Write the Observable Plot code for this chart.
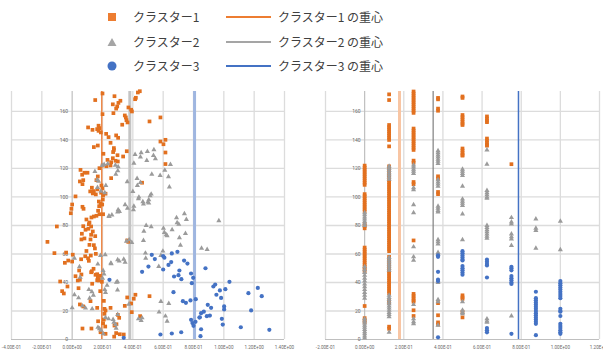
<!DOCTYPE html>
<html>
<head>
<meta charset="utf-8">
<script src="https://cdn.jsdelivr.net/npm/d3@7"></script>
<script src="https://cdn.jsdelivr.net/npm/@observablehq/plot@0.6"></script>
<style>
  html, body { margin: 0; padding: 0; background: #fff; }
  body { width: 603px; height: 351px; position: relative; overflow: hidden; }
  #legend { position: absolute; left: 0; top: 0; width: 603px; height: 85px; font-family: "Noto Sans CJK JP", sans-serif; font-size: 12px; color: #404040; }
  .lg { position: absolute; white-space: nowrap; line-height: 14px; }
  #left { position: absolute; left: 0; top: 85px; }
  #right { position: absolute; left: 300px; top: 85px; }
</style>
</head>
<body>
<div id="legend"></div>
<div id="left"></div>
<div id="right"></div>
<script>
// ---------- data ----------
const seriesNames = ["クラスター1", "クラスター2", "クラスター3"];
const centroidNames = ["クラスター1 の重心", "クラスター2 の重心", "クラスター3 の重心"];

const yTicks = [0, 20, 40, 60, 80, 100, 120, 140, 160];
const xTicksLeft = [-0.4, -0.2, 0, 0.2, 0.4, 0.6, 0.8, 1.0, 1.2, 1.4];
const xLabelsLeft = ["-4.00E-01", "-2.00E-01", "0.00E+00", "2.00E-01", "4.00E-01", "6.00E-01", "8.00E-01", "1.00E+00", "1.20E+00", "1.40E+00"];
const xTicksRight = [-0.2, 0, 0.2, 0.4, 0.6, 0.8, 1.0, 1.2];
const xLabelsRight = ["-2.00E-01", "0.00E+00", "2.00E-01", "4.00E-01", "6.00E-01", "8.00E-01", "1.00E+00", "1.20E+00"];

const centroidLeft = [0.195, 0.38, 0.807];
const centroidRight = [0.178, 0.35, 0.786];

// left panel: [x, y]
const left1 = [
  [0.20,172.6],[0.152,168],[0.279,170.7],[0.268,165],[0.305,166],[0.318,167.5],[0.297,163.5],[0.29,162],[0.272,158.8],
  [0.371,162.8],[0.389,161.2],[0.394,160],[0.347,157.2],[0.354,155.8],[0.358,153.9],[0.365,152.3],[0.33,150.7],
  [0.20,158.1],[0.105,148.8],[0.134,147.1],[0.174,150],[0.178,148.3],[0.165,147.6],[0.174,146.4],[0.189,145.3],
  [0.224,144.3],[0.24,142],[0.253,138],[0.29,143.2],[0.303,141.5],[0.143,135],[0.169,136.1],[0.206,130.3],
  [0.275,134.3],[0.275,133],[0.27,131.5],[0.36,132.1],[0.336,128.4],
  [0.299,129.3],[0.268,127.2],[0.257,124.4],[0.301,124.9],[0.286,125.4],[0.233,126],[0.253,122.1],[0.226,121.6],
  [0.20,122.1],[0.18,120.2],[0.055,119],[0.066,115.6],[0.081,117],[0.101,117],
  [0.051,110.9],[0.073,111.8],[0.068,109],[0.169,114.4],[0.16,111.8],[0.257,113.2],
  [0.13,106.5],[0.143,104.1],[0.136,102.5],[0.156,101.8],[0.119,103.9],
  [0.193,108.1],[0.20,106],[0.191,103],[0.204,101.1],[0.22,102.3],[0.167,105.3],
  [0.022,100.4],[0,94.7],[-0.005,91.7],[-0.009,88.6],[0.068,93.1],[0.075,91.7],
  [0.176,96.8],[0.187,95.2],[0.178,93.5],[0.198,94.7],[0.202,98.2],[0.171,90.3],[0.18,87.9],[0.204,87.9],
  [0.433,173.3],[0.446,174.2],[0.42,169.6],[0.415,168.6],
  [0.51,153],[0.582,155.8],[0.582,138.9],[0.602,137],[0.615,140.1],[0.615,131.2],[0.615,123.1],[0.461,110],
  [0.094,84.2],[0.143,86.3],[0.127,85.6],[0.16,86.8],
  [0.114,82.1],[0.11,80.9],[0.073,79.5],[0.125,79.3],[0.107,77.7],[-0.101,79.3],
  [0.136,75.8],[0.125,73.5],[0.152,72.5],[0.088,77],[0.064,74.2],[0.081,70.9],[0.061,70.2],[0.121,70.2],
  [-0.163,68.5],[0.114,66.4],[0.143,66.2],[0.15,63.9],[0.094,62.1],[-0.04,61],[-0.117,60.6],
  [0.156,60.1],[0.123,58.9],[0.105,57],[0.11,55.2],[0.086,58.4],[0.059,56.3],
  [0.004,59.5],[-0.026,55.4],[-0.048,53.8],[0,54.7],
  [0.141,49.6],[0.13,47.9],[0.125,47.2],[0.046,48.4],
  [0.061,45.6],[0.022,44.4],[0.037,41.4],[0.051,41.9],
  [0.165,45.8],[0.183,44.7],[0.176,42.3],[0.165,41.6],
  [0.132,39.1],[-0.079,40.7],[-0.066,33.9],[-0.055,32.3],[-0.031,37.2],[0.042,36],
  [0.121,26.9],[0.185,33.9],[0.051,24.6],[0.073,23.2],[0.165,22.2],
  [0.213,21.5],[0.22,20.4],[0.213,18],[0.209,14],[0.204,11.4],[0.218,9.1],[0.253,22.2],[0.171,12.8],[0.127,7.7],[0.068,7.7],
  [0.187,5.1],[0.22,4],[0.277,2],[0.29,4.5],[0.314,3.7],[0.34,3.5],[0.279,9.8],[0.292,10.7],
  [0.301,17.3],[0.31,15.2],[0.347,23.6],[0.389,25.3],[0.393,19.2],[0.363,29.5],[0.406,28.6],[0.417,31.4],[0.448,16.4],[0.51,30.4],[0.209,27.1],
  [0.196,40.5],[0.169,43.7],[0.174,41.4],[0.154,45.4],[0.363,69.5],[0.37,68.5]
];
const left2 = [
  [0.415,129.8],[0.455,131],[0.45,128],[0.496,131.9],[0.539,133.1],[0.536,129.1],[0.549,126.8],[0.492,125.6],[0.407,123.7],[0.648,122.8],
  [0.611,118.8],[0.525,116],[0.58,115.1],[0.635,114.2],[0.428,113],[0.363,110.7],[0.45,110.2],[0.43,108.1],[0.641,107],[0.40,103.9],
  [0.521,102],[0.514,100.8],[0.44,99.9],[0.437,98.7],[0.505,98],[0.499,96.4],[0.466,96.6],[0.47,95],[0.505,95.7],
  [0.349,94.5],[0.365,92.1],[0.407,93.5],[0.404,91],
  [0.198,122.1],[0.211,122.8],[0.235,123.3],[0.285,122.3],[0.303,121.2],[0.301,118.4],[0.288,116],[0.15,117.9],[0.165,112],[0.174,111],
  [0.222,108],[0.167,106.7],[0.19,104],[0.215,103],[0.303,91],[0.312,89.8],[0.242,86.6],[0.262,87.3],[0.244,86.3],[0.3,89.5],
  [0.74,88.2],[0.688,85.4],[0.753,84.2],[0.692,81.9],[0.703,80.9],[0.967,83.3],[0.488,80],[0.521,79.1],[0.602,78.1],[0.473,76],
  [0.608,75.1],[0.62,73.5],[0.626,72.8],[0.659,77],[0.747,74.4],[0.707,71.4],[0.47,69.5],[0.376,70],[0.393,68.1],[0.358,69],
  [0.714,66.1],[0.853,64],[0.89,63.2],[0.483,60.6],[0.485,57],[0.598,62],[0.585,59],[0.571,51.2],[0.34,56.3],[0.349,54.2],
  [0.31,55],[0.255,53.6],[0.218,59.5],[0.187,59],[0.169,52.9],[0.257,53.1],[0.3,56],
  [0.204,48.4],[0.21,46],[0.2,43],[0.299,40.5],[0.23,38],[0.215,35],[0.22,33],[0.015,31.4],[0.11,35],[0.13,33.5],[0.14,31],[0.115,29],
  [0,22.2],[0.088,22],[0.132,21.5],[0.22,15.5],[0.24,14.5],[0.27,14],[0.275,12],[0.286,10.5],[0.29,7.9],[0.17,8.5],[0.18,7.5],[0.19,6.5],[0.205,4],
  [0.015,57],[0.048,51],[0.053,43.7],[0.042,29.2],[0.068,23.6],
  [0.292,40.2],[0.299,34.8],[0.3,17.6],[0.374,24.8],[0.437,14.5],[0.455,13.3],[0.461,15.2],
  [0.585,26.7],[0.637,25.3],[0.573,19.2],[0.615,16.4],[0.626,12.8]
];
const left3 = [
  [0.525,59.4],[0.545,56.4],[0.6,58.5],[0.608,57.4],[0.657,60.4],[0.653,54.3],[0.694,61.5],[0.461,47.5],[0.503,51.2],[0.6,49.1],
  [0.635,52.3],[0.738,55.4],[0.76,53.3],[0.707,48.4],[0.701,45.1],[0.72,42.3],[0.672,44.2],[0.784,46.3],[0.798,43.3],[0.789,39.5],
  [0.879,50],[0.668,33.2],[0.73,26.9],[0.75,25.7],[0.78,27.4],[0.815,28.3],[0.931,37.2],[0.943,38.6],[0.974,34.4],[1.01,35.3],
  [1.037,40.5],[0.951,31.4],[0.982,29.2],[0.894,24.3],[0.916,22.2],[0.85,18.5],[0.868,19.5],[0.908,16.8],[0.888,16.4],[0.839,15.4],
  [1.002,23.2],[1.002,21.1],[0.987,14.5],[0.993,10.5],[1.162,32.5],[1.224,36.2],[1.25,30.4],[1.18,20.4],[0.784,13.8],[0.793,11.5],
  [0.8,9.6],[0.813,12.4],[0.842,15.6],[1.112,8.6],[1.30,6.8],[0.582,3.5],[0.657,4.2],[0.719,5.1],[0.846,2.3],[0.85,7.2],
  [0.34,1.2],[0.246,41.9]
];

// right panel: discrete x levels, y values per level for each cluster
const rightLevels = [0, 0.125, 0.25, 0.375, 0.5, 0.625, 0.75, 0.875, 1.0];
const right1Y = [
  [122,120.5,119,117.5,116,114.5,113,111.5,110,108.5,102,100.5,99,97.5,96,94.5,93,91.5,90,81,79.5,78,64.5,63,61.5,60,58.5,57,55.5,54,52.5,51,49.5,48,23.5,15,13.5,12],
  [172,168,150.5,149,147.5,146,144.5,143,141.5,140,135.5,121.5,120,118.5,117,115.5,114,111.5,110,108.5,107,105.5,104,102.5,101,99.5,98,96.5,95,93.5,92,90.5,89,87.5,86,84.5,83,81.5,80,78.5,77,75.5,74,72.5,71,69.5,68,66.5,65,63.5,62,58,56.5,55,53.5,52,50.5,49,47.5,46,44.5,43,41.5,40,38.5,37,35.5,34,32.5,27,25.5,9,7.5],
  [174,172.5,171,169.5,168,166.5,165,163.5,162,160.5,159,148,146.5,145,143.5,142,140.5,139,137.5,136,134.5,133,125.5,124,110.5,109,69.5,32,30.5,29,27.5,26.5,20.5,16.5],
  [169.5,168.5,162,160.5,114.5,113,103.5,102,25.5,17,12,10.5],
  [170.5,169.5,157.5,156,154.5,153,151.5,150.5,134,132.5,131,129.5,129,31,29.5,28.5,19.5,15.5],
  [156.5,155,153.5,152.5,141,139.5,138,136.5,136],
  [123],
  [],
  []
];
const right2Y = [
  [89,87.5,86,84.5,83,81.5,80,51,49,47,45,43,41,39,37,35,33,31,29,14.5,13,11.5,10,8.5,7,5.5,4,2.5,1],
  [121.5,120,118.5,117,115.5,114,112.5,57.5,56,54.5,53,51.5,50,48.5,31,29.5,28,26.5,25,23.5,22,20.5,19,17.5,16,5],
  [122.5,121,119.5,118,116.5,106.5,105,94.5,89,65,58,55.5,24.5,14.5,12.5,11],
  [132.5,131,129.5,128,126.5,125,123.5,112,110.5,109,107.5,93.5,92,90.5,89.5,70,68.5,67,61,60,41,40,28,26.5,10],
  [119.5,118,116.5,115,107.5,98.5,97,95.5,94,88,70,26.5,20.5,19,18],
  [133,123,104.5,103,101.5,100,99,80,78.5,77,75.5,74,72.5,71,14.5,13,12],
  [85.5,82.5,81,74,72,70.5,66,16.5],
  [84.5,78,76.5,64],
  [83,63]
];
const right3Y = [
  [],
  [],
  [],
  [59,58,47.5,42,41,1.5],
  [62,60.5,59,57.5,56,55.5,51.5,50,48.5,47,45.5],
  [56,54.5,53,52,43.5,8,6.5,5],
  [51,50,48.5,44.5,43,41.5,40,39,4],
  [33.5,29,27.5,26,24.5,23,21.5,20,18.5,17,15.5,14,12.5,11,3],
  [41,39.5,38,36.5,35,33.5,32,30.5,29,21.5,20,19.5,16.5,11,9.5,8,6.5,5,4]
];

// ---------- styles ----------
const C1 = "#e2701f", C2 = "#9b9b9b", C3 = "#4472c4";
const L1 = "#ed7d31", L2 = "#a5a5a5", L3 = "#4472c4";
const grid = "#dcdcdc", axisC = "#bfbfbf", tickText = "#6a6a6a";

const toRight = (ys) => ys.flatMap((col, i) => col.map(y => [rightLevels[i], y]));
const right1 = toRight(right1Y), right2 = toRight(right2Y), right3 = toRight(right3Y);

function panel({xDomain, xTicks, xLabels, width, mL, mR, series, centroids, lineStyles}) {
  return Plot.plot({
    width, height: 266,
    marginLeft: mL, marginRight: mR, marginTop: 6, marginBottom: 12,
    x: {domain: xDomain, axis: null},
    y: {domain: [0, 174], axis: null},
    style: {background: "transparent", overflow: "visible", fontFamily: "Roboto, sans-serif"},
    marks: [
      Plot.ruleX(xTicks.filter(d => d !== 0), {x: d => d, stroke: grid, strokeWidth: 1.3}),
      Plot.ruleY(yTicks.filter(d => d !== 0), {y: d => d, stroke: grid, strokeWidth: 1.3}),
      Plot.ruleX([0], {x: d => d, stroke: axisC, strokeWidth: 1.2}),
      Plot.ruleY([0], {y: d => d, stroke: axisC, strokeWidth: 1.2}),
      Plot.text(xTicks, {x: d => d, y: () => 0, dy: 8, text: (d, i) => xLabels[i], fontSize: 4.6, fill: tickText, textAnchor: "middle"}),
      Plot.text(yTicks, {x: () => 0, y: d => d, dx: -4, text: d => String(d), fontSize: 5, fill: tickText, textAnchor: "end"}),
      ...centroids.map((c, i) => Plot.ruleX([c], {x: d => d, stroke: lineStyles[i][0], strokeWidth: lineStyles[i][1]})),
      Plot.dot(series[0], {x: d => d[0], y: d => d[1], symbol: "square", fill: C1, r: 2.1}),
      Plot.dot(series[1], {x: d => d[0], y: d => d[1], symbol: "triangle", fill: C2, r: 1.9}),
      Plot.dot(series[2], {x: d => d[0], y: d => d[1], symbol: "circle", fill: C3, r: 2.1})
    ]
  });
}

document.getElementById("left").append(panel({
  xDomain: [-0.4, 1.4], xTicks: xTicksLeft, xLabels: xLabelsLeft, width: 300, mL: 11, mR: 16,
  series: [left1, left2, left3], centroids: centroidLeft,
  lineStyles: [["#ee8a4a", 1.5], ["#c4c4c4", 3], ["#9fb6e0", 3]]
}));
document.getElementById("right").append(panel({
  xDomain: [-0.2, 1.2], xTicks: xTicksRight, xLabels: xLabelsRight, width: 303, mL: 25, mR: 4,
  series: [right1, right2, right3], centroids: centroidRight,
  lineStyles: [["#f8c5a3", 3], ["#7f7f7f", 1.2], ["#4472c4", 1.5]]
}));

// ---------- legend ----------
const legend = document.getElementById("legend");
const rowsY = [17, 42, 66];
const markerSvg = [
  `<svg width="10" height="10"><rect x="1" y="1" width="8" height="8" fill="${L1}"/></svg>`,
  `<svg width="10" height="10"><polygon points="5,1 9.5,9 0.5,9" fill="${L2}"/></svg>`,
  `<svg width="10" height="10"><circle cx="5" cy="5" r="4.5" fill="${L3}"/></svg>`
];
const lineCol = [L1, L2, L3], lineW = [2, 2.5, 2];
seriesNames.forEach((name, i) => {
  const y = rowsY[i];
  legend.insertAdjacentHTML("beforeend",
    `<div class="lg" style="left:107px;top:${y - 5}px;line-height:0">${markerSvg[i]}</div>` +
    `<div class="lg" style="left:133px;top:${y - 7}px">${name}</div>` +
    `<div class="lg" style="left:226px;top:${y - lineW[i] / 2}px;width:45px;height:${lineW[i]}px;background:${lineCol[i]}"></div>` +
    `<div class="lg" style="left:278px;top:${y - 7}px">${centroidNames[i]}</div>`);
});
</script>
</body>
</html>
